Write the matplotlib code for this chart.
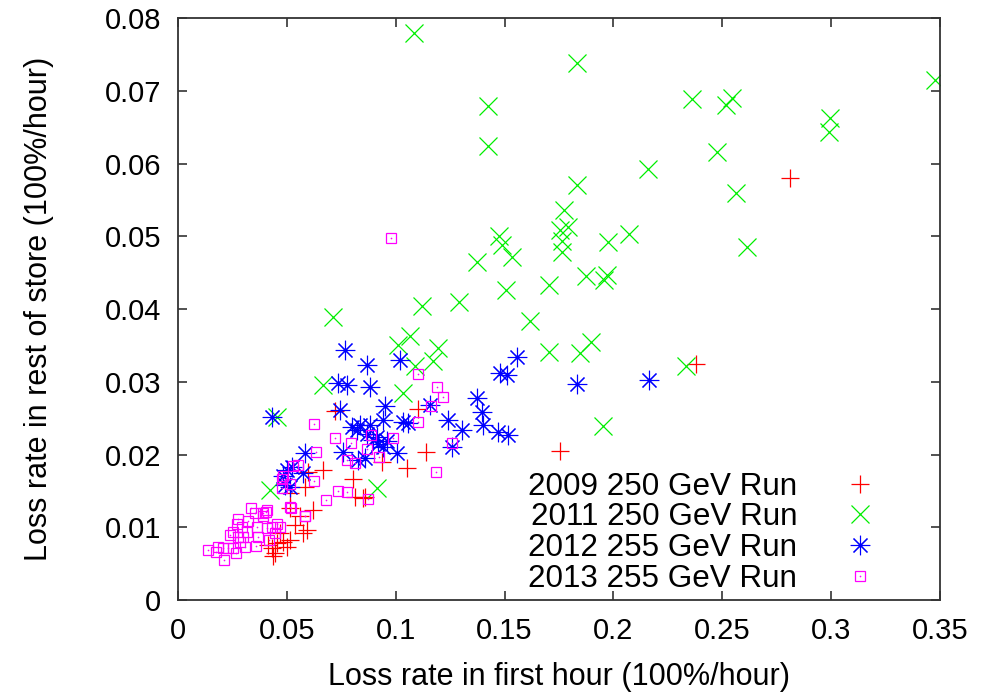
import matplotlib.pyplot as plt
from matplotlib.legend_handler import HandlerTuple

# 2009 250 GeV Run (red +)
run2009_x = [0.2811, 0.2379, 0.1755, 0.1104, 0.1138, 0.1050, 0.0936, 0.0859, 0.0813, 0.0850,
             0.0805, 0.0720, 0.0668, 0.0599, 0.0583, 0.0622, 0.0514, 0.0514, 0.0591, 0.0576,
             0.0537, 0.0514, 0.0484, 0.0453, 0.0430, 0.0438, 0.0415, 0.0469, 0.0499, 0.0446,
             0.0560]
run2009_y = [0.0580, 0.0324, 0.0205, 0.0262, 0.0203, 0.0181, 0.0190, 0.0142, 0.0142, 0.0140,
             0.0167, 0.0260, 0.0179, 0.0176, 0.0156, 0.0124, 0.0147, 0.0126, 0.0096, 0.0092,
             0.0103, 0.0082, 0.0080, 0.0078, 0.0071, 0.0060, 0.0076, 0.0092, 0.0073, 0.0064,
             0.0115]

# 2011 250 GeV Run (green x)
run2011_x = [0.1086, 0.1423, 0.1426, 0.1831, 0.2360, 0.2543, 0.2516, 0.3477, 0.2995, 0.2992,
             0.2474, 0.2157, 0.1831, 0.2563, 0.1775, 0.1793, 0.1755, 0.1762, 0.1762, 0.2072,
             0.1974, 0.2612, 0.1476, 0.1490, 0.1534, 0.1372, 0.1873, 0.1969, 0.1958, 0.1706,
             0.1507, 0.1292, 0.1122, 0.0714, 0.1617, 0.1066, 0.1009, 0.1196, 0.1173, 0.1089,
             0.1704, 0.1895, 0.1847, 0.2334, 0.0668, 0.1035, 0.1954, 0.0453, 0.0913, 0.0423]
run2011_y = [0.0780, 0.0679, 0.0624, 0.0738, 0.0689, 0.0690, 0.0681, 0.0715, 0.0662, 0.0643,
             0.0616, 0.0592, 0.0570, 0.0560, 0.0536, 0.0513, 0.0509, 0.0493, 0.0479, 0.0503,
             0.0492, 0.0485, 0.0500, 0.0488, 0.0472, 0.0464, 0.0446, 0.0447, 0.0440, 0.0433,
             0.0426, 0.0409, 0.0404, 0.0389, 0.0384, 0.0363, 0.0351, 0.0346, 0.0328, 0.0321,
             0.0341, 0.0355, 0.0340, 0.0322, 0.0296, 0.0284, 0.0239, 0.0252, 0.0154, 0.0151]

# 2012 255 GeV Run (blue asterisk)
run2012_x = [0.0767, 0.0867, 0.1020, 0.0736, 0.0775, 0.0882, 0.1556, 0.1479, 0.1510, 0.1834,
             0.2165, 0.0430, 0.0744, 0.0951, 0.1158, 0.1372, 0.1395, 0.1403, 0.1471, 0.1517,
             0.1303, 0.1242, 0.1257, 0.1035, 0.1058, 0.0798, 0.0836, 0.0882, 0.0943, 0.0821,
             0.0866, 0.0897, 0.0920, 0.0943, 0.0912, 0.0960, 0.1005, 0.0759, 0.0828, 0.0859,
             0.0583, 0.0576, 0.0499, 0.0492, 0.0522, 0.0514, 0.0484]
run2012_y = [0.0344, 0.0323, 0.0330, 0.0298, 0.0296, 0.0293, 0.0334, 0.0312, 0.0309, 0.0297,
             0.0302, 0.0252, 0.0261, 0.0266, 0.0268, 0.0277, 0.0259, 0.0241, 0.0231, 0.0227,
             0.0234, 0.0247, 0.0211, 0.0245, 0.0243, 0.0238, 0.0241, 0.0241, 0.0247, 0.0234,
             0.0228, 0.0220, 0.0215, 0.0211, 0.0224, 0.0218, 0.0202, 0.0204, 0.0192, 0.0195,
             0.0202, 0.0174, 0.0179, 0.0158, 0.0183, 0.0156, 0.0170]

# 2013 255 GeV Run (magenta square)
run2013_x = [0.1104, 0.1188, 0.1216, 0.1161, 0.1104, 0.1257, 0.1185, 0.0989, 0.0887, 0.0867,
             0.0925, 0.0793, 0.0721, 0.0626, 0.0632, 0.0775, 0.0813, 0.0530, 0.0553, 0.0484,
             0.0626, 0.0476, 0.0734, 0.0778, 0.0874, 0.0678, 0.0518, 0.0583, 0.0977, 0.0407,
             0.0392, 0.0139, 0.0175, 0.0185, 0.0205, 0.0213, 0.0254, 0.0266, 0.0251, 0.0270,
             0.0277, 0.0285, 0.0300, 0.0308, 0.0316, 0.0323, 0.0334, 0.0354, 0.0361, 0.0358,
             0.0369, 0.0392, 0.0404, 0.0410, 0.0430, 0.0446, 0.0419, 0.0293, 0.0469, 0.0453,
             0.0514, 0.0476, 0.0583, 0.0514, 0.0239, 0.0231, 0.0277]
run2013_y = [0.0311, 0.0293, 0.0279, 0.0267, 0.0244, 0.0216, 0.0176, 0.0222, 0.0227, 0.0208,
             0.0197, 0.0216, 0.0223, 0.0242, 0.0203, 0.0192, 0.0189, 0.0184, 0.0186, 0.0170,
             0.0164, 0.0154, 0.0150, 0.0148, 0.0139, 0.0137, 0.0126, 0.0115, 0.0497, 0.0124,
             0.0119, 0.0069, 0.0066, 0.0073, 0.0071, 0.0055, 0.0072, 0.0064, 0.0094, 0.0105,
             0.0087, 0.0080, 0.0087, 0.0073, 0.0094, 0.0108, 0.0127, 0.0119, 0.0101, 0.0074,
             0.0087, 0.0115, 0.0121, 0.0099, 0.0101, 0.0092, 0.0082, 0.0101, 0.0101, 0.0105,
             0.0160, 0.0167, 0.0115, 0.0128, 0.0089, 0.0071, 0.0112]

labels = ["2009 250 GeV Run", "2011 250 GeV Run", "2012 255 GeV Run", "2013 255 GeV Run"]
x_ticks = [0, 0.05, 0.1, 0.15, 0.2, 0.25, 0.3, 0.35]
x_tick_labels = ["0", "0.05", "0.1", "0.15", "0.2", "0.25", "0.3", "0.35"]
y_ticks = [0, 0.01, 0.02, 0.03, 0.04, 0.05, 0.06, 0.07, 0.08]
y_tick_labels = ["0", "0.01", "0.02", "0.03", "0.04", "0.05", "0.06", "0.07", "0.08"]

plt.rcParams['font.family'] = ['Liberation Sans', 'DejaVu Sans']

fig = plt.figure(figsize=(9.86, 6.93), dpi=100)
ax = fig.add_axes([0.1805, 0.1342, 0.7728, 0.8398])

h1, = ax.plot(run2009_x, run2009_y, linestyle="none", marker="+", markersize=13,
              markeredgewidth=0.9, color="#ff0000", label=labels[0])
h2, = ax.plot(run2011_x, run2011_y, linestyle="none", marker="x", markersize=13,
              markeredgewidth=0.9, color="#00ee00", label=labels[1])
h3, = ax.plot(run2012_x, run2012_y, linestyle="none", marker=(8, 2, 0), markersize=14,
              markeredgewidth=0.8, color="#0000ff", label=labels[2])
h4, = ax.plot(run2013_x, run2013_y, linestyle="none", marker="s", markersize=6.5,
              markeredgewidth=0.9, markerfacecolor="none", color="#ff00ff")
# little centre dot, like gnuplot's open square
h4d, = ax.plot(run2013_x, run2013_y, linestyle="none", marker="o", markersize=1.2,
               markeredgewidth=0, color="#ff00ff")

ax.set_xlim(0, 0.35)
ax.set_ylim(0, 0.08)
ax.set_xticks(x_ticks)
ax.set_xticklabels(x_tick_labels)
ax.set_yticks(y_ticks)
ax.set_yticklabels(y_tick_labels)
ax.tick_params(direction="in", length=6.5, width=1.2, top=True, right=True,
               labelsize=21, color="#333333")
ax.tick_params(axis="x", pad=12)
ax.tick_params(axis="y", pad=12)
for sp in ax.spines.values():
    sp.set_linewidth(1.3)
    sp.set_color("#333333")

ax.set_xlabel("Loss rate in first hour (100%/hour)", fontsize=22)
ax.set_ylabel("Loss rate in rest of store (100%/hour)", fontsize=22)
ax.xaxis.set_label_coords(0.5, -0.106)
ax.yaxis.set_label_coords(-0.163, 0.5)

ax.legend([h1, h2, h3, (h4, h4d)], labels, loc="lower right",
          bbox_to_anchor=(0.957, -0.016), frameon=False, markerfirst=False,
          fontsize=22.6, labelspacing=0.02, handletextpad=1.0, borderpad=0,
          handler_map={tuple: HandlerTuple(ndivide=1)})

fig.savefig("out.png", dpi=100)
